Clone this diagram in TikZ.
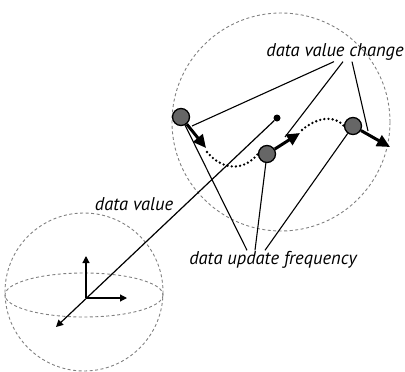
\documentclass[tikz,border=0pt]{standalone}
\usepackage{fontspec}
\setsansfont{PT Sans}
\usetikzlibrary{arrows.meta}

\begin{document}
\begin{tikzpicture}[x=1pt,y=-1pt,
        lbl/.style={font=\sffamily\itshape\fontsize{18.5}{22}\selectfont,inner sep=1pt},
        marble/.style={circle,draw,line width=1.3pt,fill=black!60,minimum size=17pt,inner sep=0pt},
        bound/.style={gray,line width=0.9pt,dash pattern=on 3pt off 2.5pt},
        move/.style={line width=3pt,-{Triangle[length=13pt,width=12pt]}},
        trail/.style={line width=2.6pt,dash pattern=on 0pt off 4.2pt,line cap=round},
        lead/.style={line width=1.1pt},
        axis/.style={line width=1.2pt,-{Triangle[length=7pt,width=7pt]}}]
    \useasboundingbox (0,0) rectangle (405,372);
    % the two spheres
    \draw[bound] (281,122) circle[radius=109];
    \draw[bound] (84,292) circle[radius=79];
    \draw[bound] (84,295) ellipse[x radius=79,y radius=22];
    % local axes
    \coordinate (o) at (86,298);
    \coordinate (up) at (86,256);
    \coordinate (rt) at (127,298);
    \coordinate (tip) at (56,327);
    \draw[axis] (o) -- (up);
    \draw[axis] (o) -- (rt);
    \node[circle,fill,inner sep=0pt,minimum size=7pt] (dot) at (277,118) {};
    \draw[axis] (dot) -- (tip);
    % data points
    \node[marble] (m_1) at (181,117) {};
    \node[marble] (m_2) at (267,154) {};
    \node[marble] (m_3) at (353,126) {};
    \coordinate (a_1) at (206,148);
    \coordinate (a_2) at (300,133);
    \coordinate (a_3) at (390,147);
    \draw[move] (m_1) -- (a_1);
    \draw[move] (m_2) -- (a_2);
    \draw[move] (m_3) -- (a_3);
    \draw[trail] (207,152) .. controls (222,170) and (243,172) .. (m_2.west);
    \draw[trail] (302,130) .. controls (316,118) and (334,114) .. (m_3.west);
    % labels
    \node[lbl] (dvc) at (335,52) {data value change};
    \node[lbl] (duf) at (273,260) {data update frequency};
    \node[lbl] (dv) at (134,204) {data value};
    \coordinate (c_1) at (192,126);
    \coordinate (c_2) at (285,137);
    \coordinate (c_3) at (368,131);
    \draw[lead] ([xshift=-1pt]dvc.south) -- (c_1);
    \draw[lead] ([xshift=8pt]dvc.south) -- (c_2);
    \draw[lead] ([xshift=17pt]dvc.south) -- (c_3);
    \draw[lead] ([xshift=-26pt]duf.north) -- (m_1);
    \draw[lead] ([xshift=-18pt]duf.north) -- (m_2);
    \draw[lead] ([xshift=-8pt]duf.north) -- (m_3);
\end{tikzpicture}
\end{document}
